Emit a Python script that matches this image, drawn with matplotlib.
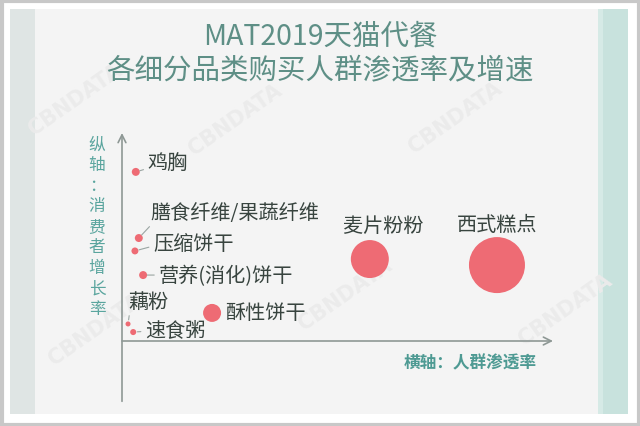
import matplotlib
matplotlib.use("Agg")
import matplotlib.pyplot as plt
from matplotlib.patches import Rectangle

plt.rcParams['font.family'] = ['Noto Sans CJK SC', 'DejaVu Sans']

# data: x = penetration, y = growth (relative units, axes run 0..100)
names = ['鸡胸', '膳食纤维/果蔬纤维', '压缩饼干', '营养(消化)饼干', '藕粉', '速食粥',
         '酥性饼干', '麦片粉粉', '西式糕点']
penetration = [3.2, 3.9, 3.0, 4.9, 1.4, 2.6, 20.9, 57.5, 87.0]
growth = [81.3, 49.5, 43.3, 31.7, 8.2, 4.3, 13.5, 39.4, 36.5]
bubble = [33, 33, 25, 33, 13, 19, 168, 748, 1626]

xlabel = '横轴：人群渗透率'
ylabel = '纵轴：消费者增长率'

# label placement: (dx, dy) in points, ha, leader line, leader start
label_pos = [
    ((8.5, 7.0), 'left', True, (0, 0.2)),
    ((8.0, 18.5), 'left', True, (0.03, 0.1)),
    ((13.0, 5.0), 'left', True, (0, 0.4)),
    ((11.0, 0.0), 'left', True, (0, 0.5)),
    ((0.0, 16.5), 'left', True, (0.05, 0.1)),
    ((8.5, 2.0), 'left', True, (0, 0.4)),
    ((9.5, 0.5), 'left', False, None),
    ((9.5, 24.0), 'center', False, None),
    ((0.0, 29.5), 'center', False, None),
]

W, H = 640, 427
fig = plt.figure(figsize=(6.4, 4.27), dpi=100)
fig.patch.set_facecolor('white')

# background frame in pixel coordinates
bg = fig.add_axes([0, 0, 1, 1])
bg.set_xlim(0, W)
bg.set_ylim(H, 0)
bg.axis('off')
bg.add_patch(Rectangle((1.5, 1.5), W - 3, H - 3, fill=False, ec='#c8c8c8', lw=3))
bg.add_patch(Rectangle((10, 10), 618, 405, fc='#f4f4f4', ec='none'))
bg.add_patch(Rectangle((10, 10), 25, 405, fc='#dfe5e4', ec='none'))
bg.add_patch(Rectangle((598, 10), 30, 405, fc='#c8e2dd', ec='none'))
bg.add_patch(Rectangle((598, 10), 5, 405, fc='#d6eae6', ec='none'))

# faint watermarks
for wx, wy in [(75, 100), (235, 120), (455, 118), (95, 330), (345, 295), (565, 310)]:
    bg.text(wx, wy, 'CBNDATA', rotation=35, fontsize=15, color='#ebebeb',
            ha='center', va='center', family='DejaVu Sans', fontweight='bold')

fig.text(0.5, 1 - 37 / H, 'MAT2019天猫代餐', ha='center', va='center',
         fontsize=20.5, color='#5e8f86')
fig.text(0.5, 1 - 70 / H, '各细分品类购买人群渗透率及增速', ha='center', va='center',
         fontsize=20.5, color='#5e8f86')

# chart axes: origin at (122, 342), x arrow end 553, y arrow top 134
x0, y0, x1, y1 = 122, 342, 553, 134
ax = fig.add_axes([x0 / W, 1 - y0 / H, (x1 - x0) / W, (y0 - y1) / H])
ax.set_xlim(0, 100)
ax.set_ylim(0, 100)
ax.axis('off')
ax.patch.set_alpha(0)

axis_col = '#8e9895'
ax.annotate('', xy=(100, 0), xytext=(0, 0),
            arrowprops=dict(arrowstyle='->', color=axis_col, lw=1.2,
                            mutation_scale=14, shrinkA=0, shrinkB=0),
            annotation_clip=False)
ax.annotate('', xy=(0, 100), xytext=(0, -29),
            arrowprops=dict(arrowstyle='->', color=axis_col, lw=1.2,
                            mutation_scale=14, shrinkA=0, shrinkB=0),
            annotation_clip=False)

ax.scatter(penetration, growth, s=bubble, color='#ee6b74', edgecolors='none',
           zorder=3, clip_on=False)

for n, px, py, (off, ha, lead, rel) in zip(names, penetration, growth, label_pos):
    props = None
    if lead:
        props = dict(arrowstyle='-', color='#9aa5a2', lw=0.8, relpos=rel,
                     shrinkA=1, shrinkB=3)
    ax.annotate(n, xy=(px, py), xytext=off, textcoords='offset points',
                ha=ha, va='center', fontsize=14.5, color='#38443f',
                arrowprops=props, annotation_clip=False)

fig.text(470 / W, 1 - 363 / H, xlabel, ha='center', va='center',
         fontsize=12, color='#4e9a93', fontweight='bold')
for i, ch in enumerate(ylabel):
    fig.text(97 / W, 1 - (145 + 20.6 * i) / H, ch, ha='center', va='center',
             fontsize=12, color='#5aa59e')

fig.savefig('out.png', dpi=100)
